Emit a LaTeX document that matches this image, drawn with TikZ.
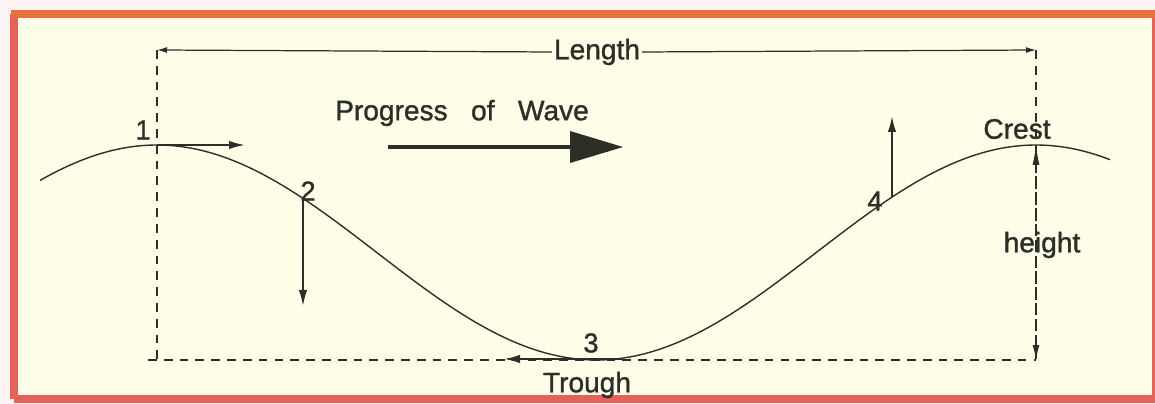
\documentclass[tikz,border=0pt]{standalone}
\usepackage{fontspec}
\setmainfont{Liberation Sans}
\newfontfamily\lblfont{Liberation Sans}[FakeBold=1.2]
\usetikzlibrary{arrows.meta}
\definecolor{cream}{HTML}{FEFEE8}
\definecolor{frame}{HTML}{E4625A}
\definecolor{frametop}{HTML}{E8703E}
\definecolor{ink}{HTML}{2E2E28}
\tikzset{
  lbl/.style={text=ink, font=\lblfont\fontsize{16}{18}\selectfont, inner sep=1pt},
  num/.style={text=ink, font=\lblfont\fontsize{15.5}{18}\selectfont, inner sep=1pt},
  wave/.style={draw=ink, line width=0.8pt},
  guide/.style={draw=ink, line width=0.7pt, dash pattern=on 5pt off 4pt},
  motion/.style={draw=ink, line width=1.1pt, -{Latex[length=0.32cm,width=0.17cm]}},
  dim/.style={draw=ink, line width=0.7pt},
}
\begin{document}
\begin{tikzpicture}[x=0.02cm,y=-0.02cm]
\useasboundingbox (0,0) rectangle (1155,404);
\fill[white!92!frame] (0,0) rectangle (1155,404);
\fill[cream] (14,14) rectangle (1160,399);
\draw[frame, line width=4.6pt] (14,399) -- (14,14);
\draw[frame, line width=4.6pt] (14,399) -- (1160,399);
\draw[frame, line width=2.5pt] (1154,14) -- (1154,399);
\draw[frametop, line width=4.6pt] (11,14) -- (1160,14);

% guide rectangle
\coordinate (tl) at (157,50);
\coordinate (tr) at (1036,50);
\coordinate (bl) at (157,360);
\coordinate (br) at (1036,360);
\coordinate (blx) at (148,360);
\draw[guide] (tl) -- (bl);
\draw[guide] (blx) -- (br);
\draw[guide] (tr) -- (br);

% length dimension
\node[lbl] (len) at (597,52) {Length};
\draw[dim, {Latex[length=0.2cm,width=0.12cm]}-] (tl) -- (len.west);
\draw[dim, -{Latex[length=0.2cm,width=0.12cm]}] (len.east) -- (tr);

% wave
\draw[wave] plot[domain=40:1110, samples=240]
  (\x, {252.5-107.5*cos((\x-157)/879*360)});

% points
\coordinate (p1) at (157,145);
\coordinate (p1e) at (245,145);
\coordinate (p2) at (303,{252.5-107.5*cos((303-157)/879*360)});
\coordinate (p2e) at (303,306);
\coordinate (p3) at (622,359);
\coordinate (p3e) at (504,359);
\coordinate (p4) at (892,{252.5-107.5*cos((892-157)/879*360)});
\coordinate (p4e) at (892,116);
\coordinate (crest) at (1036,145);

\draw[motion] (p1) -- (p1e);
\draw[motion] (p2) -- (p2e);
\draw[motion] (p3) -- (p3e);
\draw[motion] (p4) -- (p4e);

% height dimension
\draw[dim, {Latex[length=0.4cm,width=0.14cm]}-{Latex[length=0.3cm,width=0.14cm]}, dash pattern=on 5pt off 4pt] (crest) -- (br);

% labels
\node[num] (n1) at (143,130) {1};
\node[num] (n2) at (308,191) {2};
\node[num] (n3) at (591,343) {3};
\node[num] (n4) at (875,201) {4};
\node[lbl] (cr) at (1017,129) {Crest};
\node[lbl] (ht) at (1042,245) {height};
\node[lbl] (tr2) at (587,385) {Trough};
\node[lbl] (pw) at (462,113) {Progress\ \ \ of\ \ \ Wave};

% progress arrow
\coordinate (pa) at (388,147);
\coordinate (pb) at (575,147);
\draw[ink, line width=2.8pt] (pa) -- (pb);
\fill[ink] (570,131) -- (623,147) -- (570,163) -- cycle;
\end{tikzpicture}
\end{document}
